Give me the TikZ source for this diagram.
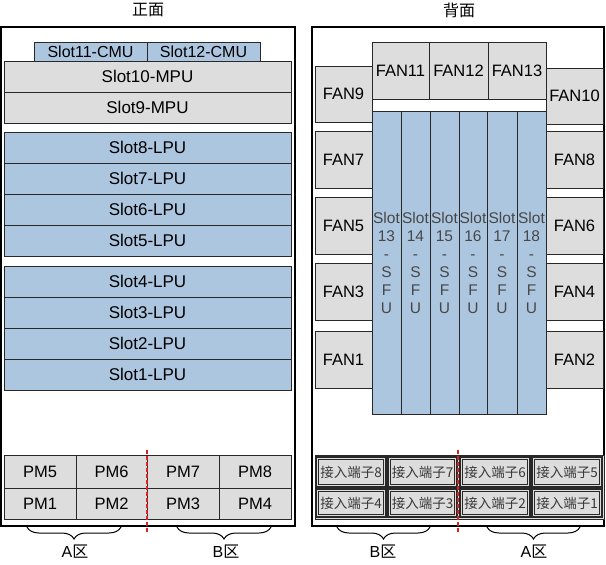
\documentclass[tikz,border=0pt]{standalone}
\usepackage{fontspec}
\setmainfont{Liberation Sans}
\newfontfamily\cjk{Noto Sans CJK SC}
\usetikzlibrary{decorations.pathreplacing}
\definecolor{blueF}{RGB}{173,198,224}
\definecolor{grayF}{RGB}{221,221,221}
\definecolor{lineC}{RGB}{40,40,40}
\definecolor{redD}{RGB}{215,35,35}
\newcommand\mybox[7]{\node[#1,minimum width={(#4-#2)*1pt},minimum height={(#5-#3)*1pt}] (#6) at ({(#2+#4)/2},{(#3+#5)/2}) {#7};}
\begin{document}
\begin{tikzpicture}[x=1pt,y=-1pt,
  base/.style={draw=lineC,line width=0.9pt,inner sep=0pt,outer sep=0pt,font=\fontsize{17}{19}\selectfont},
  chassis/.style={base,draw=black,line width=1.3pt,fill=white},
  bluebox/.style={base,fill=blueF},
  graybox/.style={base,fill=grayF},
  fanbox/.style={graybox,font=\fontsize{16.5}{18}\selectfont},
  cmubox/.style={bluebox,font=\fontsize{16}{18}\selectfont},
  sfubox/.style={bluebox,font=\fontsize{15.5}{18}\selectfont,text=black!72,align=center},
  portbox/.style={base,fill=grayF,draw=lineC,line width=1.1pt,font=\cjk\fontsize{13.5}{15}\selectfont,text=black!78},
  inner/.style={draw=lineC,line width=0.8pt},
  frame/.style={base,fill=white},
  title/.style={font=\cjk\fontsize{16}{18}\selectfont,inner sep=0pt},
  zone/.style={font=\fontsize{16}{18}\selectfont,inner sep=0pt},
  divider/.style={draw=redD,line width=1.6pt,dash pattern=on 3.5pt off 2.5pt},
  brace/.style={draw=black,line width=1pt,decorate,decoration={brace,amplitude=12pt}}
]
\useasboundingbox (0,0) rectangle (606,565);
% titles
\node[title] (tF) at (148,10) {正面};
\node[title] (tB) at (459,10) {背面};
% front chassis
\mybox{chassis}{1}{27}{295}{526}{chF}{}
\mybox{cmubox}{34}{42}{147}{61}{s11}{Slot11-CMU}
\mybox{cmubox}{147}{42}{260}{61}{s12}{Slot12-CMU}
\mybox{graybox}{4}{61}{291}{92}{s10}{Slot10-MPU}
\mybox{graybox}{4}{92}{291}{123}{s9}{Slot9-MPU}
\mybox{bluebox}{4}{132}{291}{163}{s8}{Slot8-LPU}
\mybox{bluebox}{4}{163}{291}{194}{s7}{Slot7-LPU}
\mybox{bluebox}{4}{194}{291}{225}{s6}{Slot6-LPU}
\mybox{bluebox}{4}{225}{291}{256}{s5}{Slot5-LPU}
\mybox{bluebox}{4}{266}{291}{297}{s4}{Slot4-LPU}
\mybox{bluebox}{4}{297}{291}{328}{s3}{Slot3-LPU}
\mybox{bluebox}{4}{328}{291}{359}{s2}{Slot2-LPU}
\mybox{bluebox}{4}{359}{291}{390}{s1}{Slot1-LPU}
\mybox{fanbox}{4}{455}{76}{488}{pm5}{PM5}
\mybox{fanbox}{76}{455}{147}{488}{pm6}{PM6}
\mybox{fanbox}{147}{455}{219}{488}{pm7}{PM7}
\mybox{fanbox}{219}{455}{291}{488}{pm8}{PM8}
\mybox{fanbox}{4}{488}{76}{519}{pm1}{PM1}
\mybox{fanbox}{76}{488}{147}{519}{pm2}{PM2}
\mybox{fanbox}{147}{488}{219}{519}{pm3}{PM3}
\mybox{fanbox}{219}{488}{291}{519}{pm4}{PM4}
\coordinate (dFa) at (147,450);
\coordinate (dFb) at (147,532);
\draw[divider] (dFa) -- (dFb);
\coordinate (bAr) at (121,527); \coordinate (bAl) at (27,527);
\coordinate (bBr) at (271,527); \coordinate (bBl) at (177,527);
\draw[brace] (bAr) -- (bAl);
\draw[brace] (bBr) -- (bBl);
\node[zone] (zA1) at (75,552) {A{\cjk 区}};
\node[zone] (zB1) at (226,552) {B{\cjk 区}};
% back chassis
\mybox{chassis}{312}{27}{604}{526}{chB}{}
\mybox{frame}{372}{42}{546}{414}{sfuframe}{}
\mybox{fanbox}{372}{42}{429}{99}{f11}{FAN11}
\mybox{fanbox}{429}{42}{488}{99}{f12}{FAN12}
\mybox{fanbox}{488}{42}{546}{99}{f13}{FAN13}
\mybox{sfubox}{372}{111}{401}{414}{x13}{Slot\\13\\-\\S\\F\\U}
\mybox{sfubox}{401}{111}{430}{414}{x14}{Slot\\14\\-\\S\\F\\U}
\mybox{sfubox}{430}{111}{459}{414}{x15}{Slot\\15\\-\\S\\F\\U}
\mybox{sfubox}{459}{111}{487}{414}{x16}{Slot\\16\\-\\S\\F\\U}
\mybox{sfubox}{487}{111}{517}{414}{x17}{Slot\\17\\-\\S\\F\\U}
\mybox{sfubox}{517}{111}{546}{414}{x18}{Slot\\18\\-\\S\\F\\U}
\mybox{fanbox}{315}{66}{372}{122}{f9}{FAN9}
\mybox{fanbox}{315}{131}{372}{188}{f7}{FAN7}
\mybox{fanbox}{315}{197}{372}{254}{f5}{FAN5}
\mybox{fanbox}{315}{263}{372}{320}{f3}{FAN3}
\mybox{fanbox}{315}{331}{372}{388}{f1}{FAN1}
\mybox{fanbox}{546}{68}{603}{124}{f10}{FAN10}
\mybox{fanbox}{546}{131}{603}{188}{f8}{FAN8}
\mybox{fanbox}{546}{197}{603}{254}{f6}{FAN6}
\mybox{fanbox}{546}{263}{603}{320}{f4}{FAN4}
\mybox{fanbox}{546}{331}{603}{388}{f2}{FAN2}
\mybox{graybox}{315}{455}{604}{519}{portframe}{}
\mybox{portbox}{316}{457}{386}{487}{p8}{接入端子8}
\mybox{portbox}{388}{457}{457}{487}{p7}{接入端子7}
\mybox{portbox}{460}{457}{530}{487}{p6}{接入端子6}
\mybox{portbox}{532}{457}{602}{487}{p5}{接入端子5}
\mybox{portbox}{316}{489}{386}{517}{p4}{接入端子4}
\mybox{portbox}{388}{489}{457}{517}{p3}{接入端子3}
\mybox{portbox}{460}{489}{530}{517}{p2}{接入端子2}
\mybox{portbox}{532}{489}{602}{517}{p1}{接入端子1}
\foreach \p in {p1,p2,p3,p4,p5,p6,p7,p8}
  \draw[inner] ([shift={(2.2,2.2)}]\p.north west) rectangle ([shift={(-2.2,-2.2)}]\p.south east);
\coordinate (dBa) at (458,450);
\coordinate (dBb) at (458,532);
\draw[divider] (dBa) -- (dBb);
\coordinate (cBr) at (430,527); \coordinate (cBl) at (337,527);
\coordinate (cAr) at (580,527); \coordinate (cAl) at (487,527);
\draw[brace] (cBr) -- (cBl);
\draw[brace] (cAr) -- (cAl);
\node[zone] (zB2) at (383,552) {B{\cjk 区}};
\node[zone] (zA2) at (534,552) {A{\cjk 区}};
\end{tikzpicture}
\end{document}
